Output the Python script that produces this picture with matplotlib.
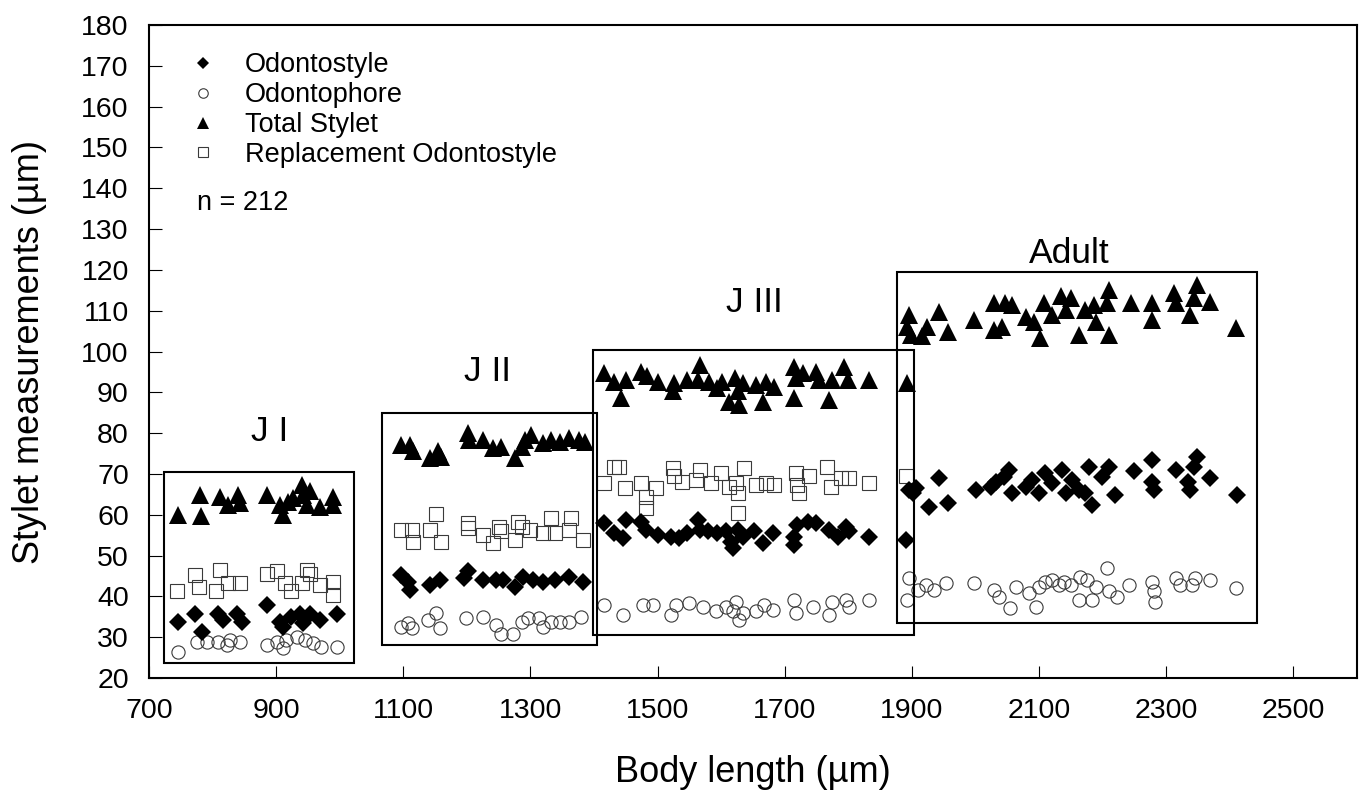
import matplotlib
matplotlib.use('Agg')
from matplotlib import pyplot as plt
from matplotlib.patches import Rectangle

plt.rcParams['font.family'] = ['Liberation Sans', 'DejaVu Sans']

# Odontostyle (filled diamonds)
odonto_x = [746, 772, 783, 809, 817, 838, 846, 885, 906, 911, 924, 937, 943, 953, 969, 995,
            1097, 1107, 1110, 1142, 1157, 1196, 1202, 1225, 1246, 1257, 1275, 1288, 1304, 1320, 1338, 1361, 1382,
            1416, 1432, 1445, 1450, 1474, 1482, 1500, 1521, 1534, 1547, 1563, 1566, 1579, 1594, 1607, 1615,
            1618, 1626, 1634, 1652, 1665, 1681, 1715, 1720, 1715, 1736, 1749, 1770, 1783, 1796, 1801, 1833, 1890,
            1896, 1901, 1906, 1927, 1943, 1956, 2000, 2024, 2032, 2045, 2053, 2058, 2079, 2089, 2100, 2110,
            2121, 2136, 2142, 2152, 2163, 2173, 2178, 2184, 2199, 2210, 2220, 2249, 2278, 2278, 2280, 2315,
            2335, 2338, 2343, 2349, 2369, 2411]
odonto_y = [33.8, 35.8, 31.3, 35.8, 34.2, 35.8, 33.8, 37.9, 33.8, 32.6, 35.0, 35.8, 33.4, 35.8, 34.2, 35.8,
            45.2, 43.6, 41.6, 42.8, 44.0, 44.4, 46.1, 44.0, 44.0, 44.0, 42.4, 44.8, 44.0, 43.6, 44.0, 44.8, 43.6,
            57.9, 55.5, 54.2, 58.7, 58.3, 56.3, 55.0, 54.6, 54.2, 55.5, 58.7, 56.3, 55.9, 55.5, 55.9, 53.4,
            51.8, 56.3, 54.6, 55.9, 53.0, 55.5, 54.6, 57.5, 52.6, 58.3, 57.9, 56.3, 54.6, 57.1, 55.9, 54.6, 53.8,
            66.1, 65.3, 66.5, 62.0, 68.9, 62.8, 66.1, 66.9, 68.1, 69.3, 71.0, 65.3, 66.9, 68.5, 65.3, 70.2,
            67.7, 71.0, 65.3, 68.5, 66.1, 65.3, 71.8, 62.4, 69.3, 71.8, 64.9, 70.6, 73.4, 68.1, 66.1, 71.0,
            68.1, 66.1, 71.8, 74.2, 68.9, 64.9]

# Odontophore (open circles)
phore_x = [746, 775, 791, 809, 822, 827, 843, 885, 901, 911, 916, 932, 945, 958, 971, 995,
           1097, 1107, 1113, 1139, 1152, 1157, 1199, 1225, 1246, 1254, 1272, 1286, 1296, 1314, 1320, 1333,
           1346, 1361, 1380,
           1416, 1445, 1477, 1492, 1521, 1529, 1550, 1571, 1592, 1607, 1618, 1623, 1628, 1634, 1655, 1668,
           1681, 1715, 1718, 1744, 1770, 1775, 1796, 1801, 1833,
           1893, 1896, 1909, 1922, 1935, 1953, 1998, 2029, 2037, 2055, 2063, 2084, 2095, 2100, 2110, 2121,
           2131, 2139, 2150, 2163, 2165, 2176, 2184, 2189, 2207, 2210, 2223, 2241, 2278, 2280, 2283, 2315,
           2322, 2341, 2346, 2369, 2409]
phore_y = [26.4, 28.9, 28.9, 28.9, 28.1, 29.3, 28.9, 28.1, 28.9, 27.3, 29.3, 30.1, 29.3, 28.5, 27.7, 27.7,
           32.6, 33.4, 32.2, 34.2, 35.9, 32.2, 34.6, 35.0, 33.0, 30.9, 30.9, 33.8, 34.6, 34.6, 32.6, 33.8,
           33.8, 33.8, 35.0,
           37.9, 35.4, 37.9, 37.9, 35.4, 37.9, 38.3, 37.5, 36.3, 37.5, 36.3, 38.7, 34.2, 35.9, 36.3, 37.9,
           36.7, 39.1, 35.9, 37.5, 35.4, 38.7, 39.1, 37.5, 39.1,
           39.1, 44.4, 41.6, 42.8, 41.6, 43.2, 43.2, 41.6, 39.9, 37.1, 42.4, 40.8, 37.5, 42.4, 43.6, 44.0,
           42.8, 43.6, 42.8, 39.1, 44.8, 44.0, 39.1, 42.4, 46.9, 41.2, 39.9, 42.8, 43.6, 41.2, 38.7, 44.4,
           42.8, 42.8, 44.4, 44.0, 42.0]

# Total stylet (filled triangles)
total_x = [746, 780, 782, 812, 825, 840, 843, 885, 906, 911, 919, 927, 940, 943, 953, 948, 969, 990, 990,
           1097, 1110, 1115, 1142, 1155, 1160, 1202, 1204, 1225, 1241, 1254, 1275, 1286, 1291, 1301, 1320,
           1333, 1346, 1361, 1377, 1385,
           1416, 1432, 1443, 1450, 1474, 1484, 1500, 1526, 1524, 1547, 1566, 1563, 1581, 1594, 1602, 1613,
           1621, 1626, 1634, 1628, 1655, 1665, 1670, 1683, 1715, 1718, 1715, 1728, 1749, 1754, 1770, 1775,
           1793, 1799, 1833, 1893,
           1896, 1893, 1898, 1916, 1924, 1943, 1956, 1998, 2029, 2029, 2042, 2058, 2047, 2079, 2092, 2102,
           2108, 2121, 2134, 2142, 2150, 2163, 2173, 2186, 2189, 2210, 2207, 2210, 2244, 2278, 2278, 2312,
           2315, 2338, 2349, 2343, 2369, 2409]
total_y = [60.0, 64.9, 59.7, 64.4, 62.4, 64.9, 62.8, 64.9, 62.4, 60.0, 63.2, 64.0, 67.3, 64.9, 65.7, 62.4, 62.0, 64.4, 62.4,
           77.1, 77.1, 75.5, 73.8, 75.5, 74.2, 80.0, 78.3, 78.3, 76.3, 76.7, 73.8, 76.7, 78.3, 79.6, 77.5,
           78.3, 77.9, 78.7, 78.3, 77.9,
           94.7, 92.6, 88.5, 93.0, 95.1, 93.9, 92.6, 92.2, 90.2, 93.0, 96.7, 93.0, 92.6, 91.0, 92.6, 87.7,
           93.4, 90.2, 92.2, 86.9, 91.8, 87.7, 92.6, 91.4, 96.3, 93.4, 88.5, 94.7, 95.1, 93.0, 88.1, 93.0,
           96.3, 93.0, 93.0, 92.2,
           109.0, 106.1, 104.1, 103.7, 106.1, 109.8, 104.9, 107.7, 111.8, 105.3, 106.1, 111.4, 111.8, 108.5, 107.3, 103.3,
           111.8, 109.0, 113.5, 110.2, 113.1, 104.1, 110.2, 111.4, 107.3, 115.1, 111.8, 104.1, 111.8, 111.8, 107.7, 114.3,
           111.8, 109.0, 116.3, 113.1, 112.2, 105.7]

# Replacement odontostyle (open squares, juveniles only)
repl_x = [744, 772, 778, 812, 806, 825, 843, 885, 901, 914, 924, 940, 948, 953, 969, 990, 990,
          1097, 1113, 1115, 1152, 1142, 1160, 1202, 1202, 1225, 1241, 1251, 1254, 1275, 1280, 1286, 1299,
          1320, 1333, 1338, 1361, 1364, 1382,
          1416, 1432, 1440, 1448, 1474, 1482, 1482, 1498, 1524, 1526, 1539, 1560, 1566, 1584, 1600, 1613,
          1623, 1626, 1636, 1626, 1655, 1670, 1683, 1718, 1720, 1723, 1738, 1767, 1772, 1788, 1801, 1833, 1890]
repl_y = [41.2, 45.2, 42.4, 46.5, 41.2, 43.2, 43.2, 45.6, 46.1, 43.2, 41.2, 43.2, 46.5, 45.6, 42.8, 43.6, 40.3,
          56.3, 56.3, 53.4, 60.3, 56.3, 53.4, 57.9, 56.7, 55.1, 53.0, 57.1, 55.9, 53.8, 58.3, 57.1, 56.3,
          55.5, 59.1, 55.5, 56.3, 59.1, 53.8,
          67.7, 71.8, 71.8, 66.5, 67.7, 64.4, 61.6, 66.5, 71.4, 69.4, 68.1, 68.5, 71.0, 67.7, 70.2, 66.9,
          67.7, 65.3, 71.4, 60.4, 67.3, 67.7, 67.3, 70.2, 67.3, 65.3, 69.4, 71.8, 66.9, 68.9, 68.9, 67.7, 69.4]

# stage boxes and their labels
stages = ['J I', 'J II', 'J III', 'Adult']
box_x0 = [724, 1066, 1398, 1877]
box_x1 = [1022, 1405, 1903, 2442]
box_y0 = [23.7, 28.1, 30.5, 33.5]
box_y1 = [70.5, 85.0, 100.4, 119.5]
label_x = [890, 1233, 1652, 2147]
label_y = [80.3, 95.0, 112.0, 124.0]

fig = plt.figure(figsize=(13.62, 7.94), dpi=100)
ax = fig.add_axes([0.1094, 0.1461, 0.8869, 0.8224])

edge = '#3a3a3a'
ax.plot(phore_x, phore_y, 'o', ms=9.5, mfc='none', mec=edge, mew=0.8, label='Odontophore')
ax.plot(repl_x, repl_y, 's', ms=9.5, mfc='none', mec=edge, mew=0.8, label='Replacement Odontostyle')
ax.plot(odonto_x, odonto_y, 'D', ms=9, color='black', mew=0, label='Odontostyle')
ax.plot(total_x, total_y, '^', ms=12.5, color='black', mew=0, label='Total Stylet')

for i in range(len(stages)):
    ax.add_patch(Rectangle((box_x0[i], box_y0[i]), box_x1[i] - box_x0[i], box_y1[i] - box_y0[i],
                           fill=False, ec='black', lw=1.5, zorder=3))
    ax.text(label_x[i], label_y[i], stages[i], fontsize=25.5, ha='center', va='center')

ax.set_xlim(700, 2600)
ax.set_ylim(20, 180)
ax.set_xticks(range(700, 2600, 200))
ax.set_yticks(range(20, 181, 10))
ax.tick_params(direction='in', length=9, width=0.8, labelsize=20.5, pad=14.5)
for s in ax.spines.values():
    s.set_linewidth(1.5)

ax.set_xlabel('Body length (µm)', fontsize=26, labelpad=22)
ax.set_ylabel('Stylet measurements (µm)', fontsize=26, labelpad=25)

h, l = ax.get_legend_handles_labels()
order = [2, 0, 3, 1]
ax.legend([h[i] for i in order], [l[i] for i in order], loc='upper left',
          bbox_to_anchor=(0.0335, 0.958), frameon=False, fontsize=19.5, markerscale=0.72,
          handlelength=1.0, handletextpad=1.05, borderpad=0, borderaxespad=0, labelspacing=0.14)
ax.text(0.0397, 0.727, 'n = 212', transform=ax.transAxes, fontsize=19.5, va='center', ha='left')

fig.savefig('out.png', dpi=100)
